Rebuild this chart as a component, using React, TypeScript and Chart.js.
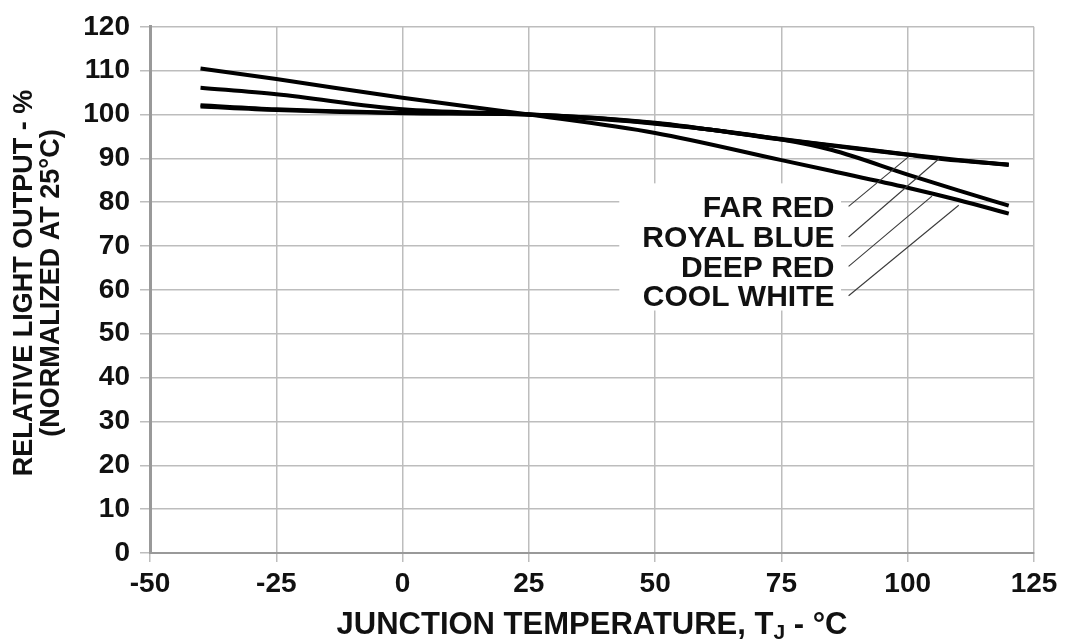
import React, { useEffect, useRef } from "react";
import { Chart, registerables } from "chart.js";

Chart.register(...registerables);

// ---- data ----
const temperatures = [-40, -25, 0, 25, 50, 75, 85, 100, 110, 120];
const farRed = [101.8, 101.0, 100.3, 100, 98.0, 94.4, 93.0, 90.9, 89.6, 88.5];
const royalBlue = [102.1, 101.2, 100.4, 100, 98.1, 94.3, 92.9, 90.8, 89.5, 88.6];
const deepRed = [106.1, 104.6, 101.2, 100, 97.9, 94.3, 91.9, 86.3, 82.7, 79.2];
const coolWhite = [110.5, 108.1, 103.8, 100, 95.8, 89.6, 87.1, 83.3, 80.5, 77.4];
const seriesNames = ["FAR RED", "ROYAL BLUE", "DEEP RED", "COOL WHITE"];
const xTickValues = [-50, -25, 0, 25, 50, 75, 100, 125];
const yTickValues = [0, 10, 20, 30, 40, 50, 60, 70, 80, 90, 100, 110, 120];
const xTitle = ["JUNCTION TEMPERATURE, T", "J", " - °C"];
const yTitle = ["RELATIVE LIGHT OUTPUT - %", "(NORMALIZED AT 25°C)"];

// ---- annotation layout (in data units) ----
const labelRightX = 85.5;
const labelYs = [78.6, 71.6, 64.9, 58.2];
const leaderStartX = 88.3;
const leaderEnds = [
  [100.2, 90.4],
  [106.2, 89.9],
  [104.8, 81.4],
  [110.1, 79.3],
];
const maskBox = { x0: 42.9, x1: 86.8, y0: 55.3, y1: 84.3 };

const FONT = "'Liberation Sans', Arial, sans-serif";

const annotationPlugin = {
  id: "annotations",
  beforeDatasetsDraw(chart: any) {
    const { ctx, scales } = chart;
    const xs = scales.x;
    const ys = scales.y;
    ctx.save();
    ctx.fillStyle = "#ffffff";
    const l = xs.getPixelForValue(maskBox.x0);
    const r = xs.getPixelForValue(maskBox.x1);
    const t = ys.getPixelForValue(maskBox.y1);
    const b = ys.getPixelForValue(maskBox.y0);
    ctx.fillRect(l, t, r - l, b - t);
    ctx.restore();
  },
  afterDatasetsDraw(chart: any) {
    const { ctx, scales } = chart;
    const xs = scales.x;
    const ys = scales.y;
    ctx.save();
    // series labels
    ctx.fillStyle = "#111111";
    ctx.font = `bold 30px ${FONT}`;
    ctx.textAlign = "right";
    ctx.textBaseline = "middle";
    seriesNames.forEach((name, i) => {
      ctx.fillText(name, xs.getPixelForValue(labelRightX), ys.getPixelForValue(labelYs[i]));
    });
    // leader lines
    ctx.strokeStyle = "#3a3a3a";
    ctx.lineWidth = 1.1;
    seriesNames.forEach((_, i) => {
      ctx.beginPath();
      ctx.moveTo(xs.getPixelForValue(leaderStartX), ys.getPixelForValue(labelYs[i]) - 2);
      ctx.lineTo(xs.getPixelForValue(leaderEnds[i][0]), ys.getPixelForValue(leaderEnds[i][1]));
      ctx.stroke();
    });
    // y title (rotated, two lines)
    ctx.font = `bold 27px ${FONT}`;
    ctx.textAlign = "center";
    ctx.textBaseline = "middle";
    ctx.translate(25, 283);
    ctx.rotate(-Math.PI / 2);
    ctx.fillText(yTitle[0], 0, 0);
    ctx.fillText(yTitle[1], 0, 27);
    ctx.setTransform(1, 0, 0, 1, 0, 0);
    ctx.restore();

    // x title with subscript
    ctx.save();
    ctx.fillStyle = "#111111";
    ctx.textBaseline = "alphabetic";
    ctx.textAlign = "left";
    const big = `bold 31px ${FONT}`;
    const small = `bold 21px ${FONT}`;
    ctx.font = big;
    const w1 = ctx.measureText(xTitle[0]).width;
    const w3 = ctx.measureText(xTitle[2]).width;
    ctx.font = small;
    const w2 = ctx.measureText(xTitle[1]).width;
    const total = w1 + w2 + w3;
    const cx = (chart.chartArea.left + chart.chartArea.right) / 2;
    let x = cx - total / 2;
    const baseline = 634;
    ctx.font = big;
    ctx.fillText(xTitle[0], x, baseline);
    x += w1;
    ctx.font = small;
    ctx.fillText(xTitle[1], x, baseline + 5);
    x += w2;
    ctx.font = big;
    ctx.fillText(xTitle[2], x, baseline);
    ctx.restore();
  },
};

export default function App() {
  const canvasRef = useRef<HTMLCanvasElement | null>(null);

  useEffect(() => {
    const canvas = canvasRef.current;
    if (!canvas) return;
    const makeData = (vals: number[]) => temperatures.map((t, i) => ({ x: t, y: vals[i] }));
    const lineStyle = {
      borderColor: "#000000",
      borderWidth: 4,
      pointRadius: 0,
      fill: false,
      cubicInterpolationMode: "monotone" as const,
    };
    const chart = new Chart(canvas, {
      type: "line",
      data: {
        datasets: [
          { label: seriesNames[0], data: makeData(farRed), ...lineStyle },
          { label: seriesNames[1], data: makeData(royalBlue), ...lineStyle },
          { label: seriesNames[2], data: makeData(deepRed), ...lineStyle },
          { label: seriesNames[3], data: makeData(coolWhite), ...lineStyle },
        ],
      },
      options: {
        animation: false,
        responsive: true,
        maintainAspectRatio: false,
        layout: { padding: { top: 22, right: 35, left: 0, bottom: 0 } },
        plugins: {
          legend: { display: false },
          tooltip: { enabled: false },
          title: { display: false },
        },
        scales: {
          x: {
            type: "linear",
            min: -50,
            max: 125,
            afterBuildTicks: (scale: any) => {
              scale.ticks = xTickValues.map((v) => ({ value: v }));
            },
            afterFit: (scale: any) => {
              scale.height = 89;
            },
            ticks: {
              color: "#111111",
              font: { family: FONT, size: 28, weight: "bold" },
              padding: 5,
              maxRotation: 0,
              autoSkip: false,
            },
            grid: {
              color: "#bdbdbd",
              lineWidth: 1.5,
              tickLength: 9,
              drawTicks: true,
            },
            border: { color: "#999999", width: 2 },
          },
          y: {
            type: "linear",
            min: 0,
            max: 120,
            afterBuildTicks: (scale: any) => {
              scale.ticks = yTickValues.map((v) => ({ value: v }));
            },
            afterFit: (scale: any) => {
              scale.width = 150;
            },
            ticks: {
              color: "#111111",
              font: { family: FONT, size: 28, weight: "bold" },
              padding: 10,
              autoSkip: false,
            },
            grid: {
              color: "#bdbdbd",
              lineWidth: 1.5,
              tickLength: 10,
              drawTicks: true,
            },
            border: { color: "#999999", width: 3 },
          },
        },
      },
      plugins: [annotationPlugin],
    });
    return () => chart.destroy();
  }, []);

  return (
    <div
      style={{
        position: "fixed",
        left: 0,
        top: 0,
        width: 1069,
        height: 642,
        background: "#ffffff",
      }}
    >
      <canvas ref={canvasRef} />
    </div>
  );
}
